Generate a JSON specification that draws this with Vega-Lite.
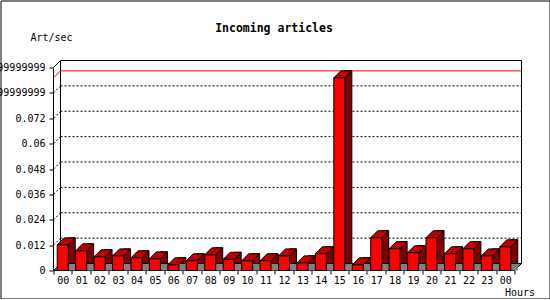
{
  "$schema": "https://vega.github.io/schema/vega-lite/v6.json",
  "width": 549,
  "height": 298,
  "autosize": "none",
  "padding": {"left": 0.5, "top": 0.5, "right": 0, "bottom": 0},
  "background": "white",
  "config": {
    "view": {"stroke": "black", "strokeWidth": 1, "fill": "white"},
    "font": "DejaVu Sans Mono",
    "axis": {"labelColor": "black", "tickColor": "black", "domainColor": "black", "titleColor": "black", "labelFont": "DejaVu Sans Mono", "titleFont": "DejaVu Sans Mono", "labelFontSize": 10, "titleFontSize": 10, "titleFontWeight": "normal", "grid": false}
  },
  "title": {"text": "Incoming articles", "font": "DejaVu Sans Mono", "fontSize": 11.5, "fontWeight": "bold", "color": "black", "anchor": "middle", "frame": "group", "offset": 0, "baseline": "alphabetic", "dy": 43, "dx": -1},
  "datasets": {
    "bars": [
      {"i": 0, "h": "00", "v": 0.0121},
      {"i": 1, "h": "01", "v": 0.0093},
      {"i": 2, "h": "02", "v": 0.0065},
      {"i": 3, "h": "03", "v": 0.0069},
      {"i": 4, "h": "04", "v": 0.006},
      {"i": 5, "h": "05", "v": 0.0055},
      {"i": 6, "h": "06", "v": 0.0027},
      {"i": 7, "h": "07", "v": 0.0046},
      {"i": 8, "h": "08", "v": 0.0074},
      {"i": 9, "h": "09", "v": 0.0053},
      {"i": 10, "h": "10", "v": 0.0046},
      {"i": 11, "h": "11", "v": 0.0046},
      {"i": 12, "h": "12", "v": 0.0069},
      {"i": 13, "h": "13", "v": 0.0036},
      {"i": 14, "h": "14", "v": 0.0079},
      {"i": 15, "h": "15", "v": 0.0911},
      {"i": 16, "h": "16", "v": 0.0027},
      {"i": 17, "h": "17", "v": 0.0155},
      {"i": 18, "h": "18", "v": 0.0103},
      {"i": 19, "h": "19", "v": 0.0084},
      {"i": 20, "h": "20", "v": 0.0155},
      {"i": 21, "h": "21", "v": 0.0079},
      {"i": 22, "h": "22", "v": 0.0103},
      {"i": 23, "h": "23", "v": 0.0069},
      {"i": 24, "h": "00", "v": 0.0112}
    ],
    "grid": [
      {"t": 0.012}, {"t": 0.024}, {"t": 0.036}, {"t": 0.048}, {"t": 0.06}, {"t": 0.072}, {"t": 0.084}
    ],
    "one": [{"k": 1}]
  },
  "layer": [
    {
      "data": {"name": "one"},
      "mark": {"type": "point", "shape": "M0,0L461,0L468,-7L7,-7Z", "size": 4, "filled": true, "fill": "#808080", "stroke": "black", "strokeWidth": 1, "opacity": 1},
      "encoding": {
        "x": {"datum": 0, "type": "quantitative", "scale": {"domain": [0, 1], "range": [53, 514]}, "axis": null},
        "y": {"datum": 0, "type": "quantitative", "scale": {"domain": [0, 0.096], "range": [270, 67], "nice": false, "zero": false}, "axis": null}
      }
    },
    {
      "data": {"name": "one"},
      "mark": {"type": "point", "shape": "M0,0L7,-7L468,-7L468,196M7,-7L7,196", "size": 4, "filled": false, "stroke": "black", "strokeWidth": 1, "opacity": 1},
      "encoding": {
        "x": {"datum": 0, "type": "quantitative", "scale": {"domain": [0, 1], "range": [53, 514]}, "axis": null},
        "y": {"datum": 0.096, "type": "quantitative", "scale": {"domain": [0, 0.096], "range": [270, 67], "nice": false, "zero": false}, "axis": null}
      }
    },
    {
      "data": {"name": "grid"},
      "mark": {"type": "rule", "color": "black", "strokeWidth": 1, "strokeDash": [2, 2], "xOffset": 7, "x2Offset": 7, "yOffset": -7},
      "encoding": {
        "x": {"datum": 0, "type": "quantitative", "scale": {"domain": [0, 1], "range": [53, 514]}, "axis": null},
        "x2": {"datum": 1},
        "y": {"field": "t", "type": "quantitative", "scale": {"domain": [0, 0.096], "range": [270, 67], "nice": false, "zero": false}, "axis": null}
      }
    },
    {
      "data": {"name": "grid"},
      "mark": {"type": "point", "shape": "M0,0L7,-7", "size": 4, "filled": false, "stroke": "black", "strokeWidth": 1, "strokeDash": [2, 2], "opacity": 1},
      "encoding": {
        "x": {"datum": 0, "type": "quantitative", "scale": {"domain": [0, 1], "range": [53, 514]}, "axis": null},
        "y": {"field": "t", "type": "quantitative", "scale": {"domain": [0, 0.096], "range": [270, 67], "nice": false, "zero": false}, "axis": null}
      }
    },
    {
      "data": {"name": "bars"},
      "transform": [{"aggregate": [{"op": "max", "field": "v", "as": "mx"}]}],
      "mark": {"type": "rule", "color": "red", "strokeWidth": 1, "xOffset": 7, "x2Offset": 7, "yOffset": -7},
      "encoding": {
        "x": {"datum": 0, "type": "quantitative", "scale": {"domain": [0, 1], "range": [53, 514]}, "axis": null},
        "x2": {"datum": 1},
        "y": {"field": "mx", "type": "quantitative", "scale": {"domain": [0, 0.096], "range": [270, 67], "nice": false, "zero": false}, "axis": null}
      }
    },
    {
      "data": {"name": "bars"},
      "transform": [{"aggregate": [{"op": "max", "field": "v", "as": "mx"}]}],
      "mark": {"type": "point", "shape": "M0,0L7,-7", "size": 4, "filled": false, "stroke": "red", "strokeWidth": 1, "opacity": 1},
      "encoding": {
        "x": {"datum": 0, "type": "quantitative", "scale": {"domain": [0, 1], "range": [53, 514]}, "axis": null},
        "y": {"field": "mx", "type": "quantitative", "scale": {"domain": [0, 0.096], "range": [270, 67], "nice": false, "zero": false}, "axis": null}
      }
    },
    {
      "data": {"name": "bars"},
      "mark": {"type": "bar", "width": 7, "xOffset": 9, "yOffset": -7, "fill": "#800000", "stroke": "black", "strokeWidth": 1},
      "encoding": {
        "x": {"field": "i", "type": "ordinal", "scale": {"type": "band", "range": [53, 514], "paddingInner": 0, "paddingOuter": 0}, "axis": null},
        "y": {"field": "v", "type": "quantitative", "scale": {"domain": [0, 0.096], "range": [270, 67], "nice": false, "zero": false}, "axis": null}
      }
    },
    {
      "data": {"name": "bars"},
      "mark": {"type": "point", "shape": "M5.5,0L12.5,-7L12.5,0Z", "size": 4, "filled": true, "fill": "#808080", "strokeWidth": 0, "opacity": 1},
      "encoding": {
        "x": {"field": "i", "type": "ordinal", "scale": {"type": "band", "range": [53, 514], "paddingInner": 0, "paddingOuter": 0}, "axis": null},
        "y": {"datum": 0, "type": "quantitative", "scale": {"domain": [0, 0.096], "range": [270, 67], "nice": false, "zero": false}, "axis": null}
      }
    },
    {
      "data": {"name": "bars"},
      "mark": {"type": "point", "shape": "M-5.5,0L5.5,0L12.5,-7L1.5,-7Z", "size": 4, "filled": true, "fill": "#c00000", "stroke": "black", "strokeWidth": 1, "opacity": 1},
      "encoding": {
        "x": {"field": "i", "type": "ordinal", "scale": {"type": "band", "range": [53, 514], "paddingInner": 0, "paddingOuter": 0}, "axis": null},
        "y": {"field": "v", "type": "quantitative", "scale": {"domain": [0, 0.096], "range": [270, 67], "nice": false, "zero": false}, "axis": null}
      }
    },
    {
      "data": {"name": "bars"},
      "mark": {"type": "bar", "width": 11, "fill": "#ff0000", "stroke": "black", "strokeWidth": 1},
      "encoding": {
        "x": {"field": "i", "type": "ordinal", "scale": {"type": "band", "range": [53, 514], "paddingInner": 0, "paddingOuter": 0},
          "axis": {"orient": "bottom", "offset": -28.5, "tickBand": "extent", "tickSize": 4, "labelPadding": 1, "labelAngle": 0,
            "labelExpr": "datum.value == null ? '' : datum.value == 24 ? '00' : (datum.value < 10 ? '0' : '') + datum.value",
            "title": "Hours", "titleX": 504, "titleY": 22, "titleAlign": "left", "titleBaseline": "middle", "titleAnchor": null}},
        "y": {"field": "v", "type": "quantitative", "scale": {"domain": [0, 0.096], "range": [270, 67], "nice": false, "zero": false},
          "axis": {"orient": "left", "offset": -52.5, "values": [0, 0.012, 0.024, 0.036, 0.048, 0.06, 0.072, 0.084, 0.096], "tickSize": 4, "labelPadding": 4, "labelLimit": 300,
            "labelExpr": "datum.value > 0.09 ? '0.0959999999999' : datum.value > 0.08 ? '0.0839999999999' : format(datum.value, '~g')",
            "title": "Art/sec", "titleAngle": 0, "titleX": -23, "titleY": 36.5, "titleAlign": "left", "titleBaseline": "middle", "titleAnchor": null}}
      }
    }
  ],
  "resolve": {"scale": {"x": "independent"}, "axis": {"x": "independent", "y": "independent"}}
}
